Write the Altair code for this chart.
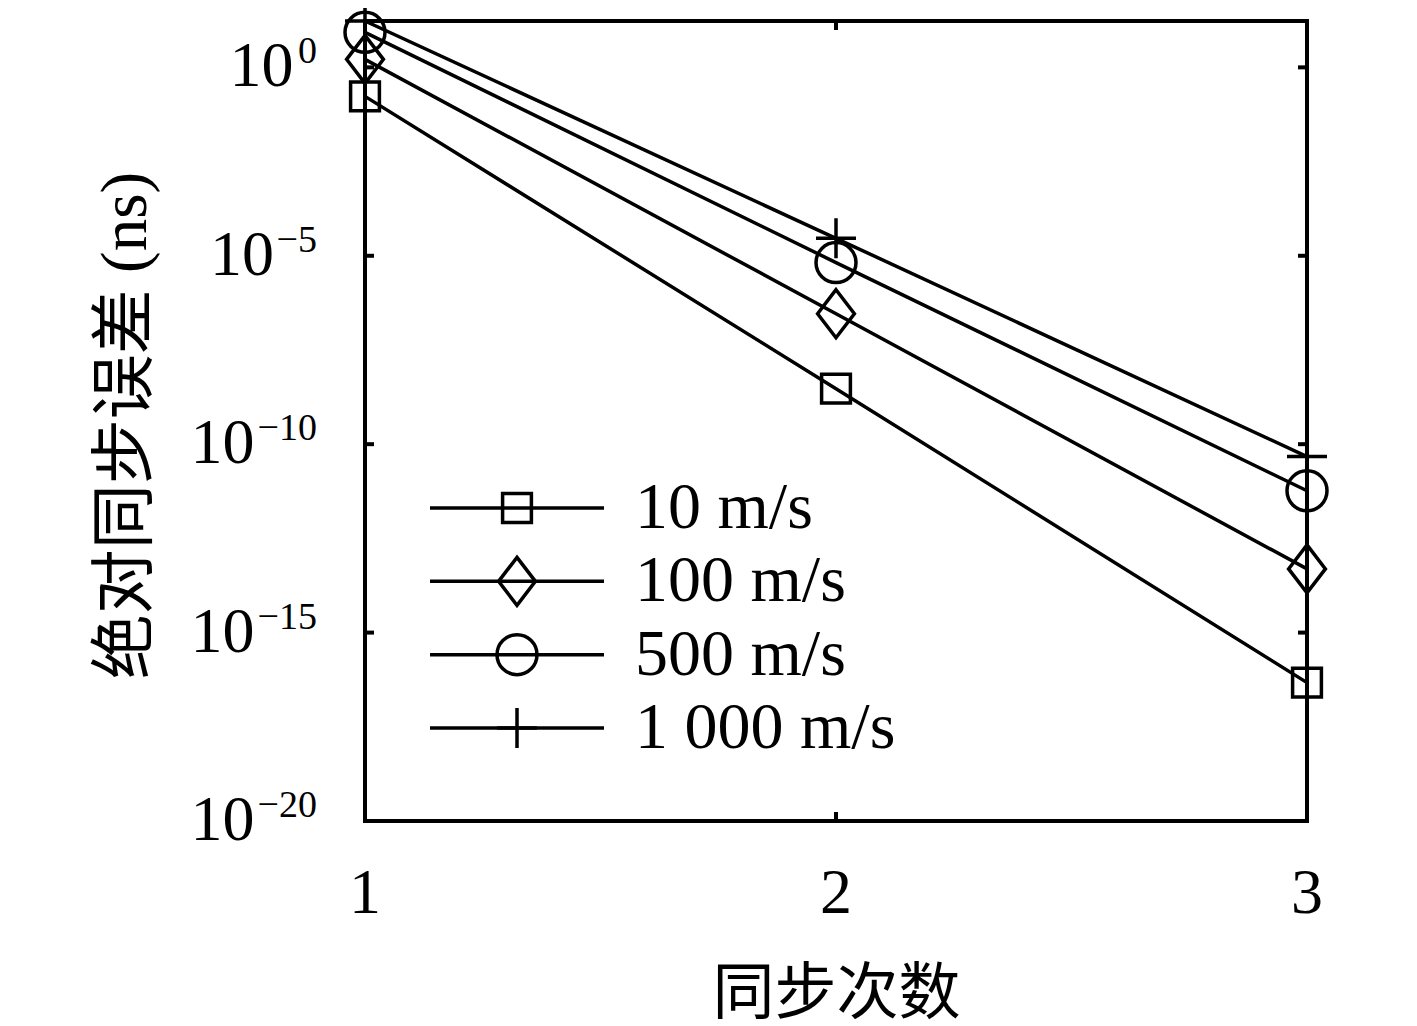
import altair as alt
import pandas as pd

# ---- data ----
steps = [1, 2, 3]
series = ["10 m/s", "100 m/s", "500 m/s", "1 000 m/s"]
err_10 = [0.17, 2.97e-9, 4.7e-17]
err_100 = [1.63, 2.9e-7, 4.9e-14]
err_500 = [8.5, 6.6e-6, 5.8e-12]
err_1000 = [17.0, 2.9e-5, 4.7e-11]

x_ticks = [1, 2, 3]
x_tick_labels = ["1", "2", "3"]
y_exponents = [0, -5, -10, -15, -20]
y_tick_base = "10"
y_tick_exponent_text = ["0", "−5", "−10", "−15", "−20"]

x_title = "同步次数"
y_title = "绝对同步误差 (ns)"

# ---- tables ----
rows = []
for name, vals in zip(series, [err_10, err_100, err_500, err_1000]):
    for s, v in zip(steps, vals):
        rows.append({"series": name, "step": s, "err": v})
df = pd.DataFrame(rows)
legend_df = pd.DataFrame({"series": series, "order": list(range(len(series)))})
ytick_df = pd.DataFrame({"err": [10.0 ** e for e in y_exponents]})
ylab_df = pd.DataFrame({
    "err": [10.0 ** e for e in y_exponents],
    "base": [y_tick_base] * len(y_exponents),
    "exp": y_tick_exponent_text,
})
xtick_df = pd.DataFrame({"step": x_ticks, "lab": x_tick_labels})

W, H = 942, 800
SERIF = "Liberation Serif"
MIXED = "Liberation Serif, Noto Sans CJK SC"
FS = 64
EXP_FS = 38
LW = 3.5

shape_scale = alt.Scale(
    domain=series,
    range=[
        "M-0.72,-0.72H0.72V0.72H-0.72Z",
        "M0,-1.2L0.92,0L0,1.2L-0.92,0Z",
        "circle",
        "M-1,0H1M0,-1V1",
    ],
)

xscale = alt.Scale(domain=[1, 3], nice=False, zero=False)
yscale = alt.Scale(type="log", domain=[1e-20, 17], nice=False)

x_axis = alt.Axis(
    values=x_ticks, labels=False, ticks=False, tickSize=0, domain=False, grid=False,
    title=x_title, titleFont=MIXED, titleFontSize=62, titleFontWeight="normal",
    titleColor="black", titleX=W / 2, titleY=173, titleAlign="center",
    titleBaseline="middle",
)
y_axis = alt.Axis(
    values=[10.0 ** e for e in y_exponents], labels=False,
    ticks=False, tickSize=0, domain=False, grid=False,
    title=y_title, titleFont=MIXED, titleFontSize=65, titleFontWeight="normal",
    titleColor="black", titleAngle=270, titleX=-240, titleY=H / 2 + 4,
    titleAlign="center", titleBaseline="middle",
)

X = alt.X("step:Q", scale=xscale, axis=x_axis)
Y = alt.Y("err:Q", scale=yscale, axis=y_axis)

lines = alt.Chart(df).mark_line(color="black", strokeWidth=LW).encode(
    x=X, y=Y, detail="series:N",
)
points = alt.Chart(df).mark_point(
    filled=False, color="black", strokeWidth=LW, size=1600, opacity=1, clip=False
).encode(
    x=X, y=Y,
    shape=alt.Shape("series:N", scale=shape_scale, legend=None),
)

yt_left = alt.Chart(ytick_df).mark_rule(color="black", strokeWidth=4).encode(
    x=alt.value(0), x2=alt.value(9), y=Y,
)
yt_right = alt.Chart(ytick_df).mark_rule(color="black", strokeWidth=4).encode(
    x=alt.value(W), x2=alt.value(W - 9), y=Y,
)
xt_bottom = alt.Chart(xtick_df).mark_rule(color="black", strokeWidth=4).encode(
    x=X, y=alt.value(H), y2=alt.value(H - 9),
)
xt_top = alt.Chart(xtick_df).mark_rule(color="black", strokeWidth=4).encode(
    x=X, y=alt.value(0), y2=alt.value(9),
)
xt_labels = alt.Chart(xtick_df).mark_text(
    align="center", baseline="middle", font=SERIF, fontSize=FS, color="black"
).encode(x=X, y=alt.value(H + 73), text="lab:N")

main = alt.layer(lines, points, yt_left, yt_right, xt_bottom, xt_top, xt_labels)

# y tick labels drawn as base + superscript exponent
YL = alt.Y("err:Q", scale=yscale, axis=None)
ylab_base = alt.Chart(ylab_df).transform_calculate(
    lx="-52 - 19.5 * length(datum.exp)"
).mark_text(
    align="right", baseline="middle", font=SERIF, fontSize=FS, color="black"
).encode(x=alt.X("lx:Q", scale=None, axis=None), y=YL, text="base:N")
ylab_exp = alt.Chart(ylab_df).mark_text(
    align="right", baseline="middle", font=SERIF, fontSize=EXP_FS, color="black",
    dy=-15,
).encode(x=alt.value(-48), y=YL, text="exp:N")
ylabels = alt.layer(ylab_base, ylab_exp)

ly = alt.Y("order:Q", scale=alt.Scale(domain=[0, 3], range=[487, 707]), axis=None)
leg_lines = alt.Chart(legend_df).mark_rule(color="black", strokeWidth=LW).encode(
    x=alt.value(65), x2=alt.value(239), y=ly,
)
leg_points = alt.Chart(legend_df).mark_point(
    filled=False, color="black", strokeWidth=LW, size=1600, opacity=1
).encode(
    x=alt.value(152), y=ly,
    shape=alt.Shape("series:N", scale=shape_scale, legend=None),
)
leg_text = alt.Chart(legend_df).mark_text(
    align="left", baseline="middle", font=SERIF, fontSize=66, color="black"
).encode(x=alt.value(270), y=ly, text="series:N")
legend = alt.layer(leg_lines, leg_points, leg_text)

chart = (
    alt.layer(main, ylabels, legend)
    .resolve_scale(x="independent", y="independent")
    .properties(
        width=W, height=H,
        autosize=alt.AutoSizeParams(type="none"),
        padding={"left": 357, "top": 13, "right": 50, "bottom": 205},
        background="white",
    )
    .configure_view(stroke="black", strokeWidth=4)
)

chart.save("out.html", embed_options={"renderer": "svg", "actions": False})
